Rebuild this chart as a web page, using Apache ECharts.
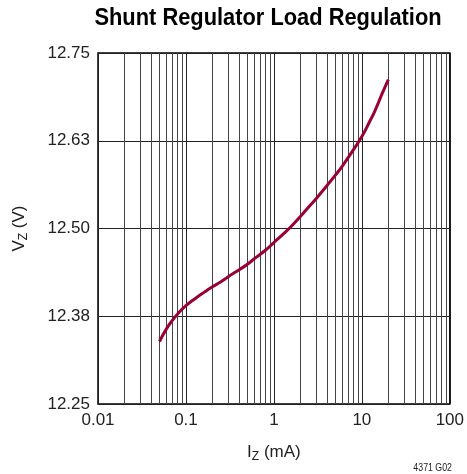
<!DOCTYPE html>
<html>
<head>
<meta charset="utf-8">
<script src="https://cdn.jsdelivr.net/npm/echarts@6/dist/echarts.min.js"></script>
<style>
  html, body { margin: 0; padding: 0; background: #fff; }
  #chart { width: 467px; height: 474px; }
</style>
</head>
<body>
<div id="chart"></div>
<script>
// current (mA) and zener voltage (V)
var currents = [0.05, 0.06, 0.07, 0.08, 0.1, 0.13, 0.16, 0.2, 0.25, 0.3, 0.4, 0.5, 0.6, 0.8, 1,
                1.3, 1.6, 2, 2.5, 3, 4, 5, 6, 8, 10, 12, 14, 17, 20];
var voltages = [12.339, 12.357, 12.369, 12.378, 12.390, 12.401, 12.409, 12.417, 12.424, 12.431,
                12.441, 12.449, 12.457, 12.469, 12.480, 12.493, 12.504, 12.517, 12.531, 12.542,
                12.561, 12.576, 12.589, 12.612, 12.631, 12.650, 12.667, 12.692, 12.712];

var xTicks = [0.01, 0.1, 1, 10, 100];
var yTicks = [12.25, 12.375, 12.5, 12.625, 12.75];

// minor decade lines (2..9 of each decade)
var minorLines = [];
for (var d = 0; d < xTicks.length - 1; d++) {
    for (var m = 2; m <= 9; m++) {
        minorLines.push({ xAxis: xTicks[d] * m });
    }
}

var pts = [];
for (var i = 0; i < currents.length; i++) {
    pts.push([currents[i], voltages[i]]);
}

var font = 'Liberation Sans, Arial, sans-serif';

var myChart = echarts.init(document.getElementById('chart'));
var option = {
    animation: false,
    grid: {
        left: 98,
        right: 16,
        top: 53,
        bottom: 70,
        show: true,
        borderColor: '#000',
        borderWidth: 1.5
    },
    xAxis: {
        type: 'log',
        logBase: 10,
        min: xTicks[0],
        max: xTicks[xTicks.length - 1],
        name: '{n|I}{s|Z}{n| (mA)}',
        nameLocation: 'middle',
        nameGap: 37,
        nameTextStyle: {
            rich: {
                n: { fontFamily: font, fontSize: 17, color: '#222' },
                s: { fontFamily: font, fontSize: 12, color: '#222', padding: [10, 0, 0, 0] }
            }
        },
        axisLine: { show: false },
        axisTick: { show: false },
        axisLabel: {
            fontFamily: font,
            fontSize: 17,
            color: '#222',
            margin: 8,
            formatter: function (v) { return String(v); }
        },
        splitLine: { show: true, lineStyle: { color: '#222', width: 1 } }
    },
    yAxis: {
        type: 'value',
        min: yTicks[0],
        max: yTicks[yTicks.length - 1],
        interval: 0.125,
        name: '{n|V}{s|Z}{n| (V)}',
        nameLocation: 'middle',
        nameGap: 68,
        nameRotate: 90,
        nameTextStyle: {
            rich: {
                n: { fontFamily: font, fontSize: 17, color: '#222' },
                s: { fontFamily: font, fontSize: 12, color: '#222', padding: [10, 0, 0, 0] }
            }
        },
        axisLine: { show: false },
        axisTick: { show: false },
        axisLabel: {
            fontFamily: font,
            fontSize: 17,
            color: '#222',
            margin: 8,
            formatter: function (v) { return v.toFixed(2); }
        },
        splitLine: { show: true, lineStyle: { color: '#222', width: 1 } }
    },
    graphic: [{
        type: 'text',
        x: 268,
        y: 7,
        scaleX: 0.95,
        style: {
            text: 'Shunt Regulator Load Regulation',
            font: 'bold 23px ' + font,
            fill: '#000',
            align: 'center',
            verticalAlign: 'top'
        }
    }, {
        type: 'text',
        x: 452,
        y: 473,
        scaleX: 0.88,
        style: {
            text: '4371 G02',
            font: '10px ' + font,
            fill: '#222',
            align: 'right',
            verticalAlign: 'bottom'
        }
    }],
    series: [{
        type: 'line',
        data: pts,
        smooth: true,
        showSymbol: false,
        lineStyle: { color: '#990033', width: 3 },
        markLine: {
            silent: true,
            symbol: 'none',
            label: { show: false },
            lineStyle: { color: '#444', width: 1, type: 'solid' },
            data: minorLines
        },
        z: 5
    }]
};
myChart.setOption(option);
window.addEventListener('resize', function () {
    myChart.resize();
});
</script>
</body>
</html>
